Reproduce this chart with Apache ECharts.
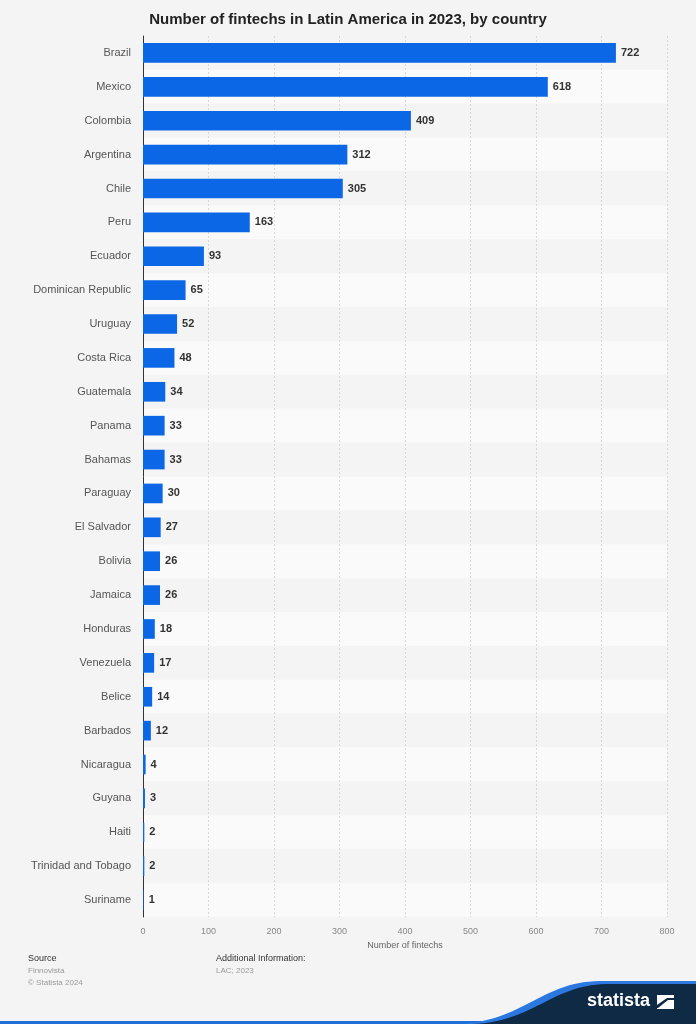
<!DOCTYPE html>
<html>
<head>
<meta charset="utf-8">
<style>
html,body{margin:0;padding:0;background:#f4f4f4;}
#chart{width:696px;height:1024px;}
</style>
<script src="https://cdn.jsdelivr.net/npm/echarts@6/dist/echarts.min.js"></script>
</head>
<body>
<div id="chart"></div>
<script>
var categories = ["Brazil","Mexico","Colombia","Argentina","Chile","Peru","Ecuador","Dominican Republic","Uruguay","Costa Rica","Guatemala","Panama","Bahamas","Paraguay","El Salvador","Bolivia","Jamaica","Honduras","Venezuela","Belice","Barbados","Nicaragua","Guyana","Haiti","Trinidad and Tobago","Suriname"];
var fintechs = [722,618,409,312,305,163,93,65,52,48,34,33,33,30,27,26,26,18,17,14,12,4,3,2,2,1];
var xTicks = [0,100,200,300,400,500,600,700,800];

var FONT = "'Liberation Sans', Arial, sans-serif";

function bez(p0,p1,p2,p3,n){
  var pts=[];
  for(var i=0;i<=n;i++){
    var t=i/n,u=1-t;
    pts.push([u*u*u*p0[0]+3*u*u*t*p1[0]+3*u*t*t*p2[0]+t*t*t*p3[0],
              u*u*u*p0[1]+3*u*u*t*p1[1]+3*u*t*t*p2[1]+t*t*t*p3[1]]);
  }
  return pts;
}
var wave1 = bez([458,1024],[525,1021],[540,982],[600,981],30).concat([[696,981],[696,1024]]);
var wave2 = bez([472,1024],[533,1022],[552,985],[606,984],30).concat([[696,984],[696,1024]]);

var chart = echarts.init(document.getElementById('chart'), null, {renderer:'canvas'});
chart.setOption({
  backgroundColor:'#f4f4f4',
  animation:false,
  title:{
    text:'Number of fintechs in Latin America in 2023, by country',
    left:'center', top:7,
    textStyle:{fontFamily:FONT,fontSize:15,fontWeight:'bold',color:'#222'}
  },
  grid:{left:143,right:29,top:36,bottom:107,containLabel:false},
  xAxis:{
    type:'value', min:xTicks[0], max:xTicks[xTicks.length-1], interval:100,
    name:'Number of fintechs', nameLocation:'middle', nameGap:24,
    nameTextStyle:{fontFamily:FONT,fontSize:9,color:'#666'},
    axisLine:{show:false}, axisTick:{show:false},
    axisLabel:{fontFamily:FONT,fontSize:9,color:'#888',margin:10},
    splitLine:{show:true,lineStyle:{color:'#d8d8d8',type:[2,2],width:1}}
  },
  yAxis:{
    type:'category', data:categories, inverse:true,
    axisLine:{show:true,lineStyle:{color:'#333',width:1}},
    axisTick:{show:false},
    axisLabel:{fontFamily:FONT,fontSize:11,color:'#555',margin:12},
    splitArea:{show:true,areaStyle:{color:['#f4f4f4','#fafafa']}}
  },
  series:[{
    type:'bar', data:fintechs, barWidth:'58%',
    itemStyle:{color:'#0b67e5'},
    label:{show:true,position:'right',distance:5,fontFamily:FONT,fontSize:11,fontWeight:'bold',color:'#333'}
  }],
  graphic:{elements:[
    {type:'text',x:28,y:954,style:{text:'Source',font:'9px '+FONT,fill:'#333'}},
    {type:'text',x:28,y:967,style:{text:'Finnovista',font:'8px '+FONT,fill:'#999'}},
    {type:'text',x:28,y:979,style:{text:'© Statista 2024',font:'8px '+FONT,fill:'#999'}},
    {type:'text',x:216,y:954,style:{text:'Additional Information:',font:'9px '+FONT,fill:'#333'}},
    {type:'text',x:216,y:967,style:{text:'LAC; 2023',font:'8px '+FONT,fill:'#999'}},
    {type:'rect',shape:{x:0,y:1021,width:696,height:3},style:{fill:'#1f6fd8'}},
    {type:'polygon',shape:{points:wave1},style:{fill:'#2a78e0'}},
    {type:'polygon',shape:{points:wave2},style:{fill:'#0e2a45'}},
    {type:'text',x:587,y:992,style:{text:'statista',font:'bold 18px '+FONT,fill:'#ffffff'}},
    {type:'rect',shape:{x:657,y:995,width:17,height:14},style:{fill:'#ffffff'}},
    {type:'polygon',shape:{points:[[657,1005],[667,998],[674,998],[674,1000],[668,1000],[658,1008],[657,1008]]},style:{fill:'#0e2a45'}}
  ]}
});
</script>
</body>
</html>
